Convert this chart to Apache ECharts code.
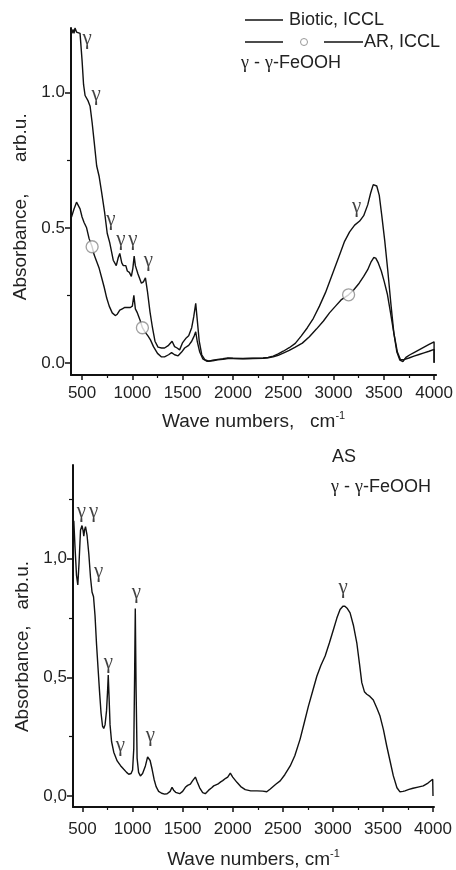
<!DOCTYPE html>
<html>
<head>
<meta charset="utf-8">
<script src="https://cdn.jsdelivr.net/npm/echarts@6/dist/echarts.min.js"></script>
<style>
html,body{margin:0;padding:0;background:#fff;}
#chart{width:456px;height:870px;}
</style>
</head>
<body>
<div id="chart"></div>
<script>
// ---- Top panel: Biotic, ICCL ----
const bioticX = [400,410,420,430,445,460,480,500,515,530,560,580,600,620,645,670,695,725,750,775,790,810,840,860,875,895,910,935,950,970,990,1005,1018,1030,1055,1090,1110,1130,1150,1175,1200,1225,1255,1290,1320,1360,1395,1420,1445,1470,1500,1530,1560,1590,1610,1630,1645,1665,1690,1720,1760,1800,1850,1900,1950,2000,2100,2200,2300,2350,2400,2450,2500,2560,2620,2680,2740,2800,2860,2920,2970,3020,3070,3110,3160,3210,3260,3300,3340,3370,3395,3410,3430,3455,3480,3510,3540,3570,3600,3630,3660,3690,3720,3760,3800,3850,3900,3950,4000,4000];
const bioticY = [1.22,1.235,1.22,1.24,1.225,1.23,1.22,1.12,1.03,0.99,0.97,0.95,0.89,0.82,0.73,0.69,0.63,0.555,0.48,0.445,0.44,0.38,0.36,0.39,0.405,0.37,0.36,0.36,0.34,0.335,0.32,0.35,0.395,0.36,0.33,0.295,0.30,0.315,0.265,0.19,0.13,0.08,0.058,0.055,0.055,0.065,0.08,0.06,0.055,0.048,0.075,0.09,0.10,0.13,0.17,0.22,0.16,0.08,0.03,0.012,0.006,0.01,0.013,0.015,0.018,0.017,0.016,0.017,0.018,0.02,0.025,0.033,0.043,0.056,0.072,0.10,0.13,0.165,0.21,0.26,0.31,0.36,0.41,0.45,0.485,0.51,0.525,0.545,0.585,0.63,0.66,0.665,0.655,0.62,0.545,0.45,0.34,0.22,0.11,0.04,0.01,0.005,0.02,0.03,0.038,0.048,0.058,0.068,0.078,0.0];

// ---- Top panel: AR, ICCL ----
const arX = [395,420,445,460,480,500,520,545,570,600,620,645,670,695,720,745,770,800,830,850,875,900,925,950,980,1000,1015,1030,1050,1075,1100,1125,1155,1180,1210,1250,1290,1320,1360,1390,1420,1455,1490,1520,1560,1590,1615,1630,1645,1670,1700,1740,1800,1850,1900,1950,2000,2100,2200,2300,2350,2400,2450,2500,2560,2620,2690,2760,2830,2900,2960,3020,3075,3150,3200,3255,3300,3340,3375,3400,3420,3445,3475,3505,3535,3565,3600,3635,3665,3700,3750,3800,3850,3900,3950,4000,4000];
const arY = [0.54,0.57,0.595,0.60,0.57,0.54,0.52,0.50,0.46,0.43,0.40,0.375,0.35,0.315,0.28,0.24,0.21,0.185,0.175,0.18,0.195,0.20,0.205,0.205,0.205,0.21,0.25,0.20,0.185,0.16,0.13,0.115,0.10,0.085,0.06,0.035,0.022,0.022,0.03,0.038,0.03,0.026,0.04,0.055,0.065,0.08,0.10,0.115,0.08,0.04,0.015,0.006,0.008,0.011,0.013,0.016,0.016,0.015,0.016,0.017,0.019,0.022,0.028,0.036,0.046,0.058,0.073,0.097,0.125,0.155,0.185,0.21,0.233,0.252,0.27,0.295,0.32,0.345,0.375,0.39,0.388,0.37,0.34,0.30,0.255,0.19,0.11,0.04,0.012,0.012,0.018,0.025,0.031,0.037,0.043,0.05,0.0];
const arMarkerX = [600, 1100, 3150];

// ---- Bottom panel: AS ----
const asX = [413,425,440,453,465,480,495,505,513,520,530,545,563,580,595,610,625,640,655,670,685,700,712,725,740,750,757,765,775,790,812,846,880,912,940,962,985,1000,1012,1020,1027,1035,1045,1060,1078,1100,1128,1150,1160,1175,1195,1215,1235,1260,1290,1320,1345,1375,1394,1410,1430,1470,1500,1527,1550,1577,1600,1627,1645,1670,1700,1726,1760,1790,1810,1850,1880,1900,1930,1950,1976,2000,2042,2080,2125,2180,2242,2300,2340,2358,2375,2391,2430,2474,2520,2574,2620,2673,2715,2756,2800,2840,2880,2923,2965,3006,3040,3072,3100,3120,3145,3172,3205,3239,3265,3289,3315,3339,3370,3404,3440,3471,3505,3538,3570,3604,3640,3670,3700,3720,3760,3800,3850,3903,3950,3997,4000];
const asY = [1.16,1.05,0.93,0.89,0.98,1.12,1.14,1.12,1.095,1.12,1.135,1.10,1.02,0.92,0.86,0.84,0.76,0.64,0.54,0.44,0.35,0.295,0.285,0.30,0.36,0.44,0.51,0.42,0.30,0.23,0.185,0.148,0.128,0.113,0.10,0.092,0.095,0.11,0.20,0.50,0.79,0.45,0.16,0.10,0.085,0.095,0.127,0.165,0.172,0.15,0.113,0.07,0.04,0.02,0.012,0.008,0.01,0.02,0.037,0.025,0.016,0.01,0.02,0.037,0.045,0.05,0.065,0.08,0.06,0.035,0.015,0.01,0.025,0.035,0.043,0.05,0.06,0.065,0.075,0.08,0.097,0.08,0.058,0.04,0.027,0.022,0.022,0.021,0.018,0.012,0.03,0.037,0.05,0.064,0.09,0.127,0.17,0.24,0.31,0.379,0.445,0.505,0.55,0.59,0.645,0.702,0.75,0.786,0.80,0.80,0.79,0.772,0.72,0.646,0.56,0.478,0.44,0.429,0.42,0.405,0.37,0.337,0.28,0.211,0.15,0.085,0.035,0.018,0.02,0.022,0.028,0.033,0.038,0.043,0.055,0.071,0.0];

// ---- Tick values ----
const xTickValues = [500,1000,1500,2000,2500,3000,3500,4000];
const xMinorValues = [750,1250,1750,2250,2750,3250,3750];
const yTopTicks = [0, 0.5, 1.0];
const yTopMinor = [0.25, 0.75];
const yBotTicks = [0, 0.5, 1.0];
const yBotMinor = [0.25, 0.75, 1.25];

// ---- Band annotations (γ-FeOOH) in data coordinates ----
const gammaTopX = [550, 640, 787, 887, 1005, 1159, 3230];
const gammaTopY = [1.20, 0.995, 0.53, 0.455, 0.455, 0.38, 0.58];
const gammaBotX = [490, 610, 660, 759, 879, 1038, 1178, 3102];
const gammaBotY = [1.20, 1.20, 0.945, 0.563, 0.214, 0.857, 0.256, 0.88];

const zip = (xs, ys) => xs.map((x, i) => [x, ys[i]]);
const arMarkers = arMarkerX.map(x => [x, arY[arX.indexOf(x)]]);

const TXT = '#222';
const SANS = 'Liberation Sans, Arial, sans-serif';
const SERIF = 'Liberation Serif, Times New Roman, serif';

function xAxes(gridIndex, min, max, nameGap, margin) {
  return [{
    type: 'value', gridIndex, min, max, position: 'bottom',
    axisLine: {show: true, onZero: false, lineStyle: {color: '#111', width: 2}},
    axisTick: {show: true, customValues: xTickValues, length: 5, lineStyle: {color: '#111', width: 1.5}},
    axisLabel: {show: true, customValues: xTickValues, formatter: v => String(v), fontSize: 17, fontFamily: SANS, color: TXT, margin},
    splitLine: {show: false},
    name: gridIndex === 0 ? 'Wave numbers,   cm{s|-1}' : 'Wave numbers, cm{s|-1}',
    nameLocation: 'middle', nameGap,
    nameTextStyle: {fontSize: 19, fontFamily: SANS, color: TXT,
      rich: {s: {fontSize: 11, fontFamily: SANS, color: TXT, verticalAlign: 'top', padding: [0, 0, 12, 0]}}}
  }, {
    type: 'value', gridIndex, min, max, position: 'bottom',
    axisLine: {show: false, onZero: false},
    axisTick: {show: true, customValues: xMinorValues, length: 3, lineStyle: {color: '#111', width: 1.2}},
    axisLabel: {show: false},
    splitLine: {show: false}
  }];
}

function yAxes(gridIndex, min, max, ticks, minor, fmt, name, nameGap) {
  return [{
    type: 'value', gridIndex, min, max, position: 'left',
    axisLine: {show: true, onZero: false, lineStyle: {color: '#111', width: 2}},
    axisTick: {show: true, customValues: ticks, length: 6, lineStyle: {color: '#111', width: 1.5}},
    axisLabel: {show: true, customValues: ticks, formatter: fmt, fontSize: 17, fontFamily: SANS, color: TXT, margin: 6},
    splitLine: {show: false},
    name, nameLocation: 'middle', nameGap,
    nameTextStyle: {fontSize: 19, fontFamily: SANS, color: TXT}
  }, {
    type: 'value', gridIndex, min, max, position: 'left',
    axisLine: {show: false, onZero: false},
    axisTick: {show: true, customValues: minor, length: 4, lineStyle: {color: '#111', width: 1.2}},
    axisLabel: {show: false},
    splitLine: {show: false}
  }];
}

function gammaSeries(xAxisIndex, yAxisIndex, xs, ys) {
  return {
    type: 'scatter', xAxisIndex, yAxisIndex, data: zip(xs, ys),
    symbol: 'circle', symbolSize: 1, itemStyle: {color: 'rgba(0,0,0,0)'},
    silent: true,
    label: {show: true, formatter: 'γ', position: 'inside', fontFamily: SERIF, fontSize: 21, color: '#111'},
    z: 5
  };
}

const chart = echarts.init(document.getElementById('chart'), null, {renderer: 'canvas'});
chart.setOption({
  animation: false,
  backgroundColor: '#fff',
  grid: [
    {left: 71, top: 28, width: 366, height: 347},
    {left: 73, top: 465, width: 361, height: 343}
  ],
  xAxis: [...xAxes(0, 390, 4020, 35, 10), ...xAxes(1, 405, 4010, 41, 14)],
  yAxis: [
    ...yAxes(0, -0.045, 1.24, yTopTicks, yTopMinor, v => v.toFixed(1),
      'Absorbance,      arb.u.\u00a0\u00a0', 36),
    ...yAxes(1, -0.046, 1.395, yBotTicks, yBotMinor, v => v.toFixed(1).replace('.', ','),
      'Absorbance,   arb.u.\u00a0\u00a0\u00a0\u00a0', 40)
  ],
  series: [
    {type: 'line', name: 'Biotic, ICCL', xAxisIndex: 0, yAxisIndex: 0, data: zip(bioticX, bioticY),
      showSymbol: false, lineStyle: {color: '#111', width: 1.4}, silent: true},
    {type: 'line', name: 'AR, ICCL', xAxisIndex: 0, yAxisIndex: 0, data: zip(arX, arY),
      showSymbol: false, lineStyle: {color: '#111', width: 1.4}, silent: true},
    {type: 'scatter', name: 'AR markers', xAxisIndex: 0, yAxisIndex: 0, data: arMarkers,
      symbol: 'circle', symbolSize: 12, itemStyle: {color: '#fff', borderColor: '#888', borderWidth: 1.3}, silent: true, z: 4},
    gammaSeries(0, 0, gammaTopX, gammaTopY),
    {type: 'line', name: 'AS', xAxisIndex: 2, yAxisIndex: 2, data: zip(asX, asY),
      showSymbol: false, lineStyle: {color: '#111', width: 1.4}, silent: true},
    gammaSeries(2, 2, gammaBotX, gammaBotY)
  ],
  graphic: [
    {type: 'line', shape: {x1: 245, y1: 20, x2: 283, y2: 20}, style: {stroke: '#111', lineWidth: 1.4}},
    {type: 'text', x: 289, y: 20, style: {text: 'Biotic, ICCL', font: '18px ' + SANS, fill: TXT, verticalAlign: 'middle'}},
    {type: 'line', shape: {x1: 245, y1: 42, x2: 283, y2: 42}, style: {stroke: '#111', lineWidth: 1.4}},
    {type: 'circle', shape: {cx: 304, cy: 42, r: 3.5}, style: {fill: '#fff', stroke: '#999', lineWidth: 1}},
    {type: 'line', shape: {x1: 324, y1: 42, x2: 363, y2: 42}, style: {stroke: '#111', lineWidth: 1.4}},
    {type: 'text', x: 364, y: 42, style: {text: 'AR, ICCL', font: '18px ' + SANS, fill: TXT, verticalAlign: 'middle'}},
    {type: 'text', x: 241, y: 63, style: {text: '{g|γ} - {g|γ}-FeOOH', font: '18px ' + SANS, fill: TXT, verticalAlign: 'middle',
      rich: {g: {fontFamily: SERIF, fontSize: 18, fill: TXT}}}},
    {type: 'text', x: 332, y: 457, style: {text: 'AS', font: '18px ' + SANS, fill: TXT, verticalAlign: 'middle'}},
    {type: 'text', x: 331, y: 487, style: {text: '{g|γ} - {g|γ}-FeOOH', font: '18px ' + SANS, fill: TXT, verticalAlign: 'middle',
      rich: {g: {fontFamily: SERIF, fontSize: 18, fill: TXT}}}}
  ]
});
</script>
</body>
</html>
